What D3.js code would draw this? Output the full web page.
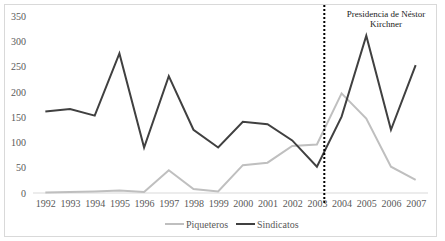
<!DOCTYPE html>
<html>
<head>
<meta charset="utf-8">
<script src="https://cdn.jsdelivr.net/npm/d3@7"></script>
<style>
  body { margin: 0; background: #fff; }
  text { font-family: "Liberation Serif", "DejaVu Serif", serif; }
</style>
</head>
<body>
<div id="chart-area"></div>
<script>
const years = [1992, 1993, 1994, 1995, 1996, 1997, 1998, 1999, 2000, 2001, 2002, 2003, 2004, 2005, 2006, 2007];
const piqueteros = [1, 2, 3, 5, 2, 45, 8, 3, 55, 60, 93, 96, 197, 147, 52, 26];
const sindicatos = [161, 166, 153, 276, 90, 231, 125, 90, 141, 136, 104, 52, 151, 311, 125, 253];
const yTicks = [0, 50, 100, 150, 200, 250, 300, 350];
const kirchnerStart = 2003.3;
const annotation = ["Presidencia de Néstor", "Kirchner"];

const svgWidth = 445, svgHeight = 241;
const margin = { left: 33, right: 17, top: 16, bottom: 48 };
const width = svgWidth - margin.left - margin.right;
const height = svgHeight - margin.top - margin.bottom;

const svg = d3.select("#chart-area")
              .append("svg")
              .attr("width", svgWidth)
              .attr("height", svgHeight);

svg.append("rect")
   .attr("x", 4.5).attr("y", 4.5)
   .attr("width", 432).attr("height", 232)
   .attr("fill", "#fff")
   .attr("stroke", "#d9d9d9");

const g = svg.append("g")
             .attr("transform", `translate(${margin.left},${margin.top})`);

const x = d3.scaleLinear()
            .domain([years[0] - 0.5, years[years.length - 1] + 0.5])
            .range([0, width]);

const y = d3.scaleLinear()
            .domain([0, 350])
            .range([height, 0]);

// y tick labels
const yAxisCall = d3.axisLeft(y).tickValues(yTicks).tickSize(0).tickPadding(7);
const yAxis = g.append("g").call(yAxisCall);
yAxis.select(".domain").remove();
yAxis.selectAll("text").attr("fill", "#595959").attr("font-size", 10)
     .attr("font-family", "Liberation Serif");

// baseline
g.append("line")
 .attr("x1", 0).attr("x2", width)
 .attr("y1", y(0)).attr("y2", y(0))
 .attr("stroke", "#d9d9d9").attr("stroke-width", 1);

// x tick labels
const xAxisCall = d3.axisBottom(x).tickValues(years).tickFormat(d3.format("d")).tickSize(0).tickPadding(7);
const xAxis = g.append("g").attr("transform", `translate(0, ${height})`).call(xAxisCall);
xAxis.select(".domain").remove();
xAxis.selectAll("text").attr("fill", "#595959").attr("font-size", 10)
     .attr("font-family", "Liberation Serif");

const line = d3.line()
               .x((d, i) => x(years[i]))
               .y(d => y(d));

g.append("path")
 .datum(piqueteros)
 .attr("d", line)
 .attr("fill", "none")
 .attr("stroke", "#bfbfbf")
 .attr("stroke-width", 2);

g.append("path")
 .datum(sindicatos)
 .attr("d", line)
 .attr("fill", "none")
 .attr("stroke", "#404040")
 .attr("stroke-width", 2);

// Kirchner marker
g.append("line")
 .attr("x1", x(kirchnerStart)).attr("x2", x(kirchnerStart))
 .attr("y1", -11).attr("y2", height + 11)
 .attr("stroke", "#000")
 .attr("stroke-width", 2)
 .attr("stroke-dasharray", "2,2");

g.append("text")
 .attr("x", x(2005.8))
 .attr("y", 1)
 .attr("text-anchor", "middle")
 .attr("font-size", 9)
 .attr("fill", "#222")
 .selectAll("tspan")
 .data(annotation)
 .enter()
 .append("tspan")
   .attr("x", x(2005.8))
   .attr("dy", (d, i) => i === 0 ? 0 : 10)
   .text(d => d);

// legend
const legend = svg.append("g").attr("transform", "translate(165, 224)");
const items = [
  { name: "Piqueteros", color: "#bfbfbf", dx: 0 },
  { name: "Sindicatos", color: "#404040", dx: 71 }
];
items.forEach(it => {
  legend.append("line")
        .attr("x1", it.dx).attr("x2", it.dx + 19)
        .attr("y1", 0).attr("y2", 0)
        .attr("stroke", it.color).attr("stroke-width", 2);
  legend.append("text")
        .attr("x", it.dx + 21).attr("y", 3.5)
        .attr("font-size", 10)
        .attr("fill", "#595959")
        .text(it.name);
});
</script>
</body>
</html>
